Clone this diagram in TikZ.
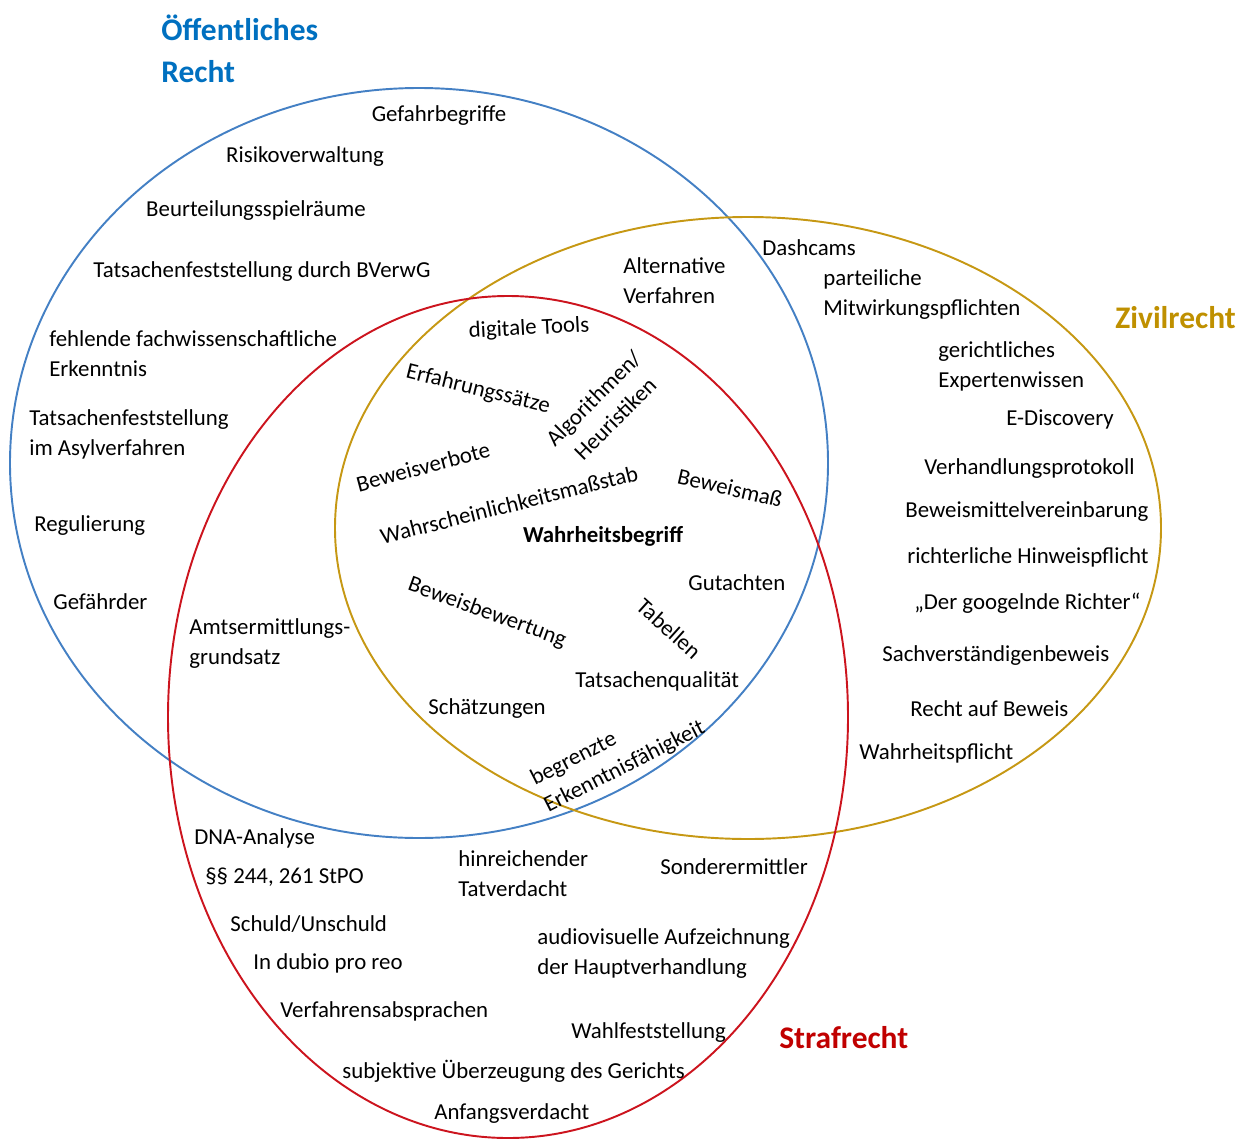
\documentclass[tikz,border=0pt]{standalone}
\usepackage{fontspec}
\setmainfont{Carlito}
\definecolor{oerblue}{RGB}{68,128,196}
\definecolor{zivgold}{RGB}{198,152,20}
\definecolor{strafred}{RGB}{204,20,30}
\definecolor{oertitle}{RGB}{0,112,192}
\definecolor{zivtitle}{RGB}{191,144,0}
\definecolor{straftitle}{RGB}{192,0,0}
\tikzset{
  lbl/.style={inner sep=0pt, anchor=west, align=left, yshift=-1pt, font=\fontsize{13pt}{17pt}\selectfont},
  clbl/.style={inner sep=0pt, align=center, yshift=-1pt, font=\fontsize{13pt}{17pt}\selectfont},
  title/.style={inner sep=0pt, anchor=west, align=left, font=\fontsize{17.9pt}{23.8pt}\selectfont\bfseries},
  ring/.style={line width=1.1pt}
}
\begin{document}
\begin{tikzpicture}[x=0.02cm, y=-0.02cm]
        \useasboundingbox (0,0) rectangle (1247,1139);
        % the three circles
        \draw[ring, oerblue] (419,463) ellipse [x radius=409, y radius=375];
        \draw[ring, zivgold] (748,528) ellipse [x radius=413, y radius=311];
        \draw[ring, strafred] (508,717) ellipse [x radius=340, y radius=421];
        % titles
        \node[title, text=oertitle] (oer) at (161,49) {Öffentliches\\Recht};
        \node[title, text=zivtitle] (ziv) at (1115,318) {Zivilrecht};
        \node[title, text=straftitle] (straf) at (779,1038) {Strafrecht};
        % oeffentliches Recht
        \node[clbl] (gefahr) at (439,114) {Gefahrbegriffe};
        \node[clbl] (risiko) at (305,155) {Risikoverwaltung};
        \node[clbl] (beurt) at (256,209) {Beurteilungsspielräume};
        \node[clbl] (bverwg) at (262,270) {Tatsachenfeststellung durch BVerwG};
        \node[lbl] (fehlend) at (49,352) {fehlende fachwissenschaftliche\\Erkenntnis};
        \node[lbl] (asyl) at (29,433) {Tatsachenfeststellung\\im Asylverfahren};
        \node[lbl] (regul) at (34,524) {Regulierung};
        \node[lbl] (gefaehrder) at (53,600) {Gefährder};
        \node[lbl] (amts) at (189,642) {Amtsermittlungs-\\grundsatz};
        % Zivilrecht
        \node[lbl] (altverf) at (623,279) {Alternative\\Verfahren};
        \node[lbl] (dash) at (762,246) {Dashcams};
        \node[lbl] (mitw) at (823,293) {parteiliche\\Mitwirkungspflichten};
        \node[lbl] (experten) at (938,365) {gerichtliches\\Expertenwissen};
        \node[lbl] (ediscovery) at (1006,418) {E-Discovery};
        \node[lbl] (protokoll) at (924,467) {Verhandlungsprotokoll};
        \node[lbl] (vereinb) at (905,510) {Beweismittelvereinbarung};
        \node[lbl] (hinweis) at (907,556) {richterliche Hinweispflicht};
        \node[lbl] (google) at (914,601) {„Der googelnde Richter“};
        \node[lbl] (sachv) at (882,654) {Sachverständigenbeweis};
        \node[lbl] (rechtbew) at (910,707) {Recht auf Beweis};
        \node[lbl] (wpflicht) at (859,752) {Wahrheitspflicht};
        % Mitte
        \node[clbl, rotate=3] (tools) at (529,327) {digitale Tools};
        \node[clbl, rotate=-14] (erfahrung) at (478,388) {Erfahrungssätze};
        \node[clbl, rotate=45, align=left] (algo) at (604,407) {Algorithmen/\\\hspace*{0.45em}Heuristiken};
        \node[clbl, rotate=15] (verbote) at (423,465) {Beweisverbote};
        \node[clbl, rotate=14] (wmass) at (509,503) {Wahrscheinlichkeitsmaßstab};
        \node[clbl, rotate=-13] (bmass) at (730,486) {Beweismaß};
        \node[clbl, font=\fontsize{13pt}{17pt}\selectfont\bfseries] (wahrheit) at (603,535) {Wahrheitsbegriff};
        \node[lbl] (gutachten) at (688,581) {Gutachten};
        \node[clbl, rotate=-20] (bewertung) at (487,611) {Beweisbewertung};
        \node[clbl, rotate=-42] (tabellen) at (669,627) {Tabellen};
        \node[lbl] (tqual) at (575,680) {Tatsachenqualität};
        \node[lbl] (schaetz) at (428,707) {Schätzungen};
        \node[clbl, rotate=27, align=left] (begrenzt) at (618,752) {begrenzte\\Erkenntnisfähigkeit};
        % Strafrecht
        \node[lbl] (dna) at (194,837) {DNA-Analyse};
        \node[lbl] (stpo) at (205,875) {§§ 244, 261 StPO};
        \node[lbl] (hinreich) at (458,872) {hinreichender\\Tatverdacht};
        \node[lbl] (sonder) at (660,865) {Sonderermittler};
        \node[lbl] (schuld) at (230,922) {Schuld/Unschuld};
        \node[lbl] (dubio) at (253,962) {In dubio pro reo};
        \node[lbl] (audio) at (537,952) {audiovisuelle Aufzeichnung\\der Hauptverhandlung};
        \node[lbl] (absprach) at (280,1010) {Verfahrensabsprachen};
        \node[lbl] (wahlf) at (571,1031) {Wahlfeststellung};
        \node[lbl] (ueberz) at (342,1070) {subjektive Überzeugung des Gerichts};
        \node[lbl] (anfang) at (434,1112) {Anfangsverdacht};
\end{tikzpicture}
\end{document}
